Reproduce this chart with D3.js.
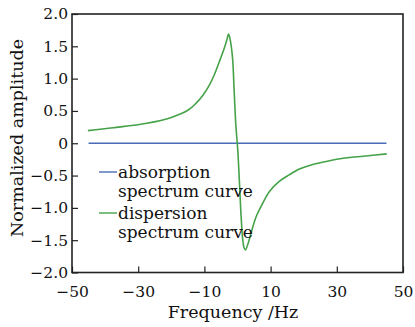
<!DOCTYPE html>
<html>
<head>
<meta charset="utf-8">
<script src="https://cdn.jsdelivr.net/npm/d3@7"></script>
<style>
  body { margin: 0; background: #fff; }
  text { font-family: "DejaVu Serif", serif; fill: #111; }
</style>
</head>
<body>
<svg id="chart" width="415" height="327"></svg>
<script>
// values
var dispFreq = [-45.2, -37.5, -27.4, -20.0, -15.0, -12.5, -10.5, -8.5, -7.0, -5.5, -4.0, -3.2, -2.7, -2.2, -1.5, -1.0, -0.5, 0.1, 0.6, 1.1, 1.6, 2.0, 2.4, 3.2, 4.1, 5.6, 7.6, 9.6, 12.6, 15.6, 18.7, 22.0, 26.0, 31.0, 38.0, 45.1];
var dispAmp  = [0.195, 0.24, 0.31, 0.40, 0.51, 0.62, 0.74, 0.90, 1.06, 1.26, 1.47, 1.60, 1.69, 1.60, 1.32, 0.80, 0.28, -0.12, -0.62, -1.14, -1.50, -1.62, -1.65, -1.55, -1.39, -1.14, -0.93, -0.75, -0.59, -0.49, -0.40, -0.34, -0.29, -0.24, -0.20, -0.165];
var absFreq = [-45, 45];
var absAmp = [0, 0];
var xTicks = [-50, -30, -10, 10, 30, 50];
var yTicks = [2.0, 1.5, 1.0, 0.5, 0, -0.5, -1.0, -1.5, -2.0];
var legendNames = [["absorption", "spectrum curve"], ["dispersion", "spectrum curve"]];
var colors = ["#4a6cb6", "#45a249"];

var svg = d3.select("#chart");
var pLeft = 72, pRight = 403, pTop = 14, pBottom = 272.5;

var x = d3.scaleLinear().domain([-50, 50]).range([pLeft, pRight]);
var y = d3.scaleLinear().domain([-2, 2]).range([pBottom, pTop]);

function fmt(v) {
    if (v === 0) return "0";
    return (v < 0 ? "\u2212" : "") + Math.abs(v).toFixed(1);
}

// x axis
var xa = svg.append("g").attr("transform", "translate(0," + pBottom + ")")
    .call(d3.axisBottom(x).tickValues(xTicks).tickSize(-6).tickPadding(13)
        .tickFormat(function(d){ return (d < 0 ? "\u2212" : "") + Math.abs(d); }));
xa.select(".domain").remove();
xa.selectAll("line").attr("stroke", "#222").attr("stroke-width", 1.2);
xa.selectAll("text").attr("font-size", 15.5).attr("fill", "#111").style("font-family", "DejaVu Serif");

// y axis
var ya = svg.append("g").attr("transform", "translate(" + pLeft + ",0)")
    .call(d3.axisLeft(y).tickValues(yTicks).tickSize(-6).tickPadding(4).tickFormat(fmt));
ya.select(".domain").remove();
ya.selectAll("line").attr("stroke", "#222").attr("stroke-width", 1.2);
ya.selectAll("text").attr("font-size", 15.5).attr("fill", "#111").style("font-family", "DejaVu Serif");

// frame
svg.append("rect").attr("x", pLeft).attr("y", pTop)
    .attr("width", pRight - pLeft).attr("height", pBottom - pTop)
    .attr("fill", "none").attr("stroke", "#222").attr("stroke-width", 1.6);

var line = d3.line().x(function(d){ return x(d[0]); }).y(function(d){ return y(d[1]); });

svg.append("path").datum(d3.zip(absFreq, absAmp))
    .attr("d", line).attr("fill", "none").attr("stroke", colors[0]).attr("stroke-width", 1.4);

svg.append("path").datum(d3.zip(dispFreq, dispAmp))
    .attr("d", line.curve(d3.curveCatmullRom.alpha(0.5))).attr("fill", "none")
    .attr("stroke", colors[1]).attr("stroke-width", 1.6);

// legend
var lg = svg.append("g");
legendNames.forEach(function(names, i) {
    var ly = 172 + i * 41;
    lg.append("line").attr("x1", 99).attr("x2", 117).attr("y1", ly).attr("y2", ly)
        .attr("stroke", colors[i]).attr("stroke-width", 1.4);
    names.forEach(function(t, j) {
        lg.append("text").attr("x", 118).attr("y", ly + 6 + j * 19)
            .attr("font-size", 17).text(t);
    });
});

// axis titles
svg.append("text").attr("x", 233).attr("y", 318).attr("text-anchor", "middle")
    .attr("font-size", 17.5).text("Frequency /Hz");
svg.append("text").attr("transform", "translate(23,138) rotate(-90)")
    .attr("text-anchor", "middle").attr("font-size", 17.5).text("Normalized amplitude");
</script>
</body>
</html>
